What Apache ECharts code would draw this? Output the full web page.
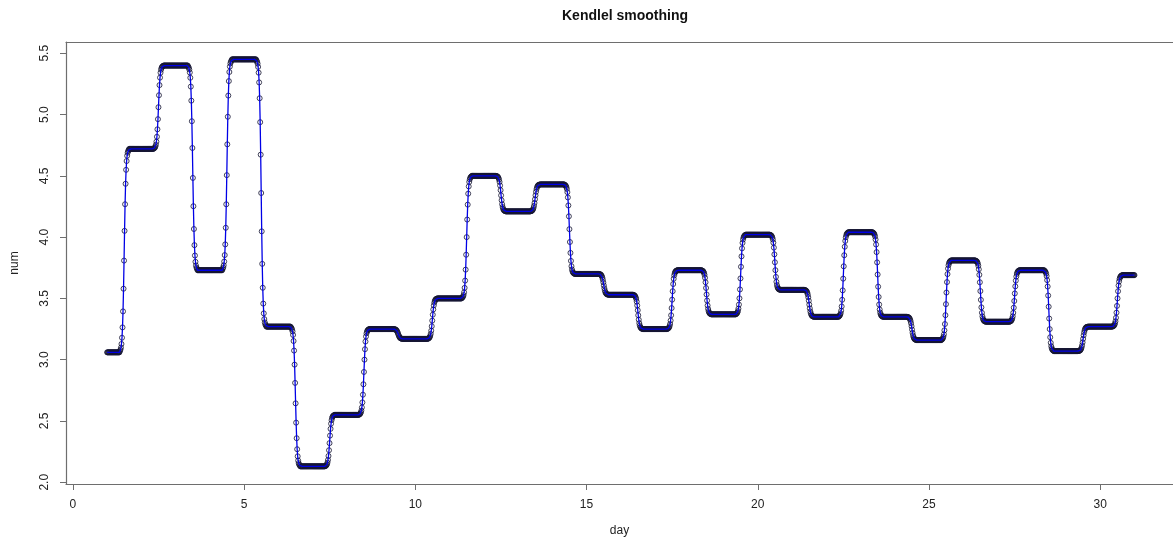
<!DOCTYPE html>
<html>
<head>
<meta charset="utf-8">
<title>Kendlel smoothing</title>
<script src="https://cdn.jsdelivr.net/npm/echarts@6/dist/echarts.min.js"></script>
<style>
  html, body { margin: 0; padding: 0; background: #ffffff; }
  #chart { width: 1173px; height: 541px; }
</style>
</head>
<body>
<div id="chart"></div>
<script>
// Daily observations
const days = [1, 2, 3, 4, 5, 6, 7, 8, 9, 10, 11, 12, 13, 14, 15, 16,
              17, 18, 19, 20, 21, 22, 23, 24, 25, 26, 27, 28, 29, 30, 31];
const num = [3.06, 4.72, 5.40, 3.73, 5.45, 3.27, 2.13, 2.55, 3.25, 3.17, 3.50,
             4.50, 4.21, 4.43, 3.70, 3.53, 3.25, 3.73, 3.37, 4.02, 3.57, 3.35,
             4.04, 3.35, 3.16, 3.81, 3.31, 3.73, 3.07, 3.27, 3.69];

// Axis ticks
const xTicks = [0, 5, 10, 15, 20, 25, 30];
const yTicks = [2.0, 2.5, 3.0, 3.5, 4.0, 4.5, 5.0, 5.5];

// Smoother settings (normal kernel, like R's ksmooth)
const bandwidth = 0.43;
const nPoints = 2001;

function ksmoothNormal(x, y, bw, n) {
  const sd = 0.3706506 * bw;
  const cutoff = 4 * sd;
  const x0 = Math.min(...x), x1 = Math.max(...x);
  const out = [];
  for (let k = 0; k < n; k++) {
    const xp = x0 + (x1 - x0) * k / (n - 1);
    let sw = 0, swy = 0;
    for (let i = 0; i < x.length; i++) {
      const d = x[i] - xp;
      if (Math.abs(d) < cutoff) {
        const w = Math.exp(-0.5 * (d / sd) * (d / sd));
        sw += w;
        swy += w * y[i];
      }
    }
    if (sw > 0) out.push([xp, swy / sw]);
  }
  return out;
}

const smooth = ksmoothNormal(days, num, bandwidth, nPoints);

const axisGray = '#6e6e6e';
const textColor = '#222222';
const fontFamily = '"Liberation Sans", Arial, sans-serif';

const chart = echarts.init(document.getElementById('chart'), null, { renderer: 'canvas' });

chart.setOption({
  animation: false,
  backgroundColor: '#ffffff',
  title: {
    text: 'Kendlel smoothing',
    left: 620,
    top: 4,
    textAlign: 'center',
    textStyle: { fontFamily: fontFamily, fontSize: 14, fontWeight: 'bold', color: '#111111' }
  },
  grid: {
    left: 66, right: 0, top: 42, bottom: 57,
    outerBoundsMode: 'none',
    containLabel: false,
    show: false
  },
  xAxis: [
    {
      type: 'value',
      position: 'bottom',
      min: -0.2, max: 32.125,
      name: 'day',
      nameLocation: 'middle',
      nameGap: 41,
      nameTextStyle: { fontFamily: fontFamily, fontSize: 12, color: textColor },
      axisLine: { show: true, onZero: false, lineStyle: { color: axisGray, width: 1.2 } },
      axisTick: { show: true, length: 6, lineStyle: { color: axisGray }, customValues: xTicks },
      axisLabel: { margin: 15, fontFamily: fontFamily, fontSize: 12, color: textColor, customValues: xTicks },
      splitLine: { show: false }
    },
    {
      // top edge of the plot frame
      type: 'value',
      position: 'top',
      min: -0.2, max: 32.125,
      axisLine: { show: true, onZero: false, lineStyle: { color: axisGray, width: 1.2 } },
      axisTick: { show: false },
      axisLabel: { show: false },
      splitLine: { show: false }
    }
  ],
  yAxis: {
    type: 'value',
    min: 1.986, max: 5.592,
    name: 'num',
    nameLocation: 'middle',
    nameGap: 45,
    nameRotate: 90,
    nameTextStyle: { fontFamily: fontFamily, fontSize: 12, color: textColor },
    axisLine: { show: true, onZero: false, lineStyle: { color: axisGray, width: 1.2 } },
    axisTick: { show: true, length: 6, lineStyle: { color: axisGray }, customValues: yTicks },
    axisLabel: {
      rotate: 90, margin: 15, fontFamily: fontFamily, fontSize: 12, color: textColor,
      customValues: yTicks,
      formatter: v => v.toFixed(1)
    },
    splitLine: { show: false }
  },
  series: [
    {
      name: 'points',
      type: 'scatter',
      data: smooth,
      symbol: 'circle',
      symbolSize: 5,
      large: false,
      progressive: 0,
      itemStyle: { color: 'rgba(0,0,0,0)', borderColor: '#141432', borderWidth: 1 },
      z: 2
    },
    {
      name: 'smooth',
      type: 'line',
      data: smooth,
      showSymbol: false,
      sampling: 'none',
      progressive: 0,
      lineStyle: { color: '#0000e6', width: 1.3 },
      z: 3
    }
  ]
});
</script>
</body>
</html>
